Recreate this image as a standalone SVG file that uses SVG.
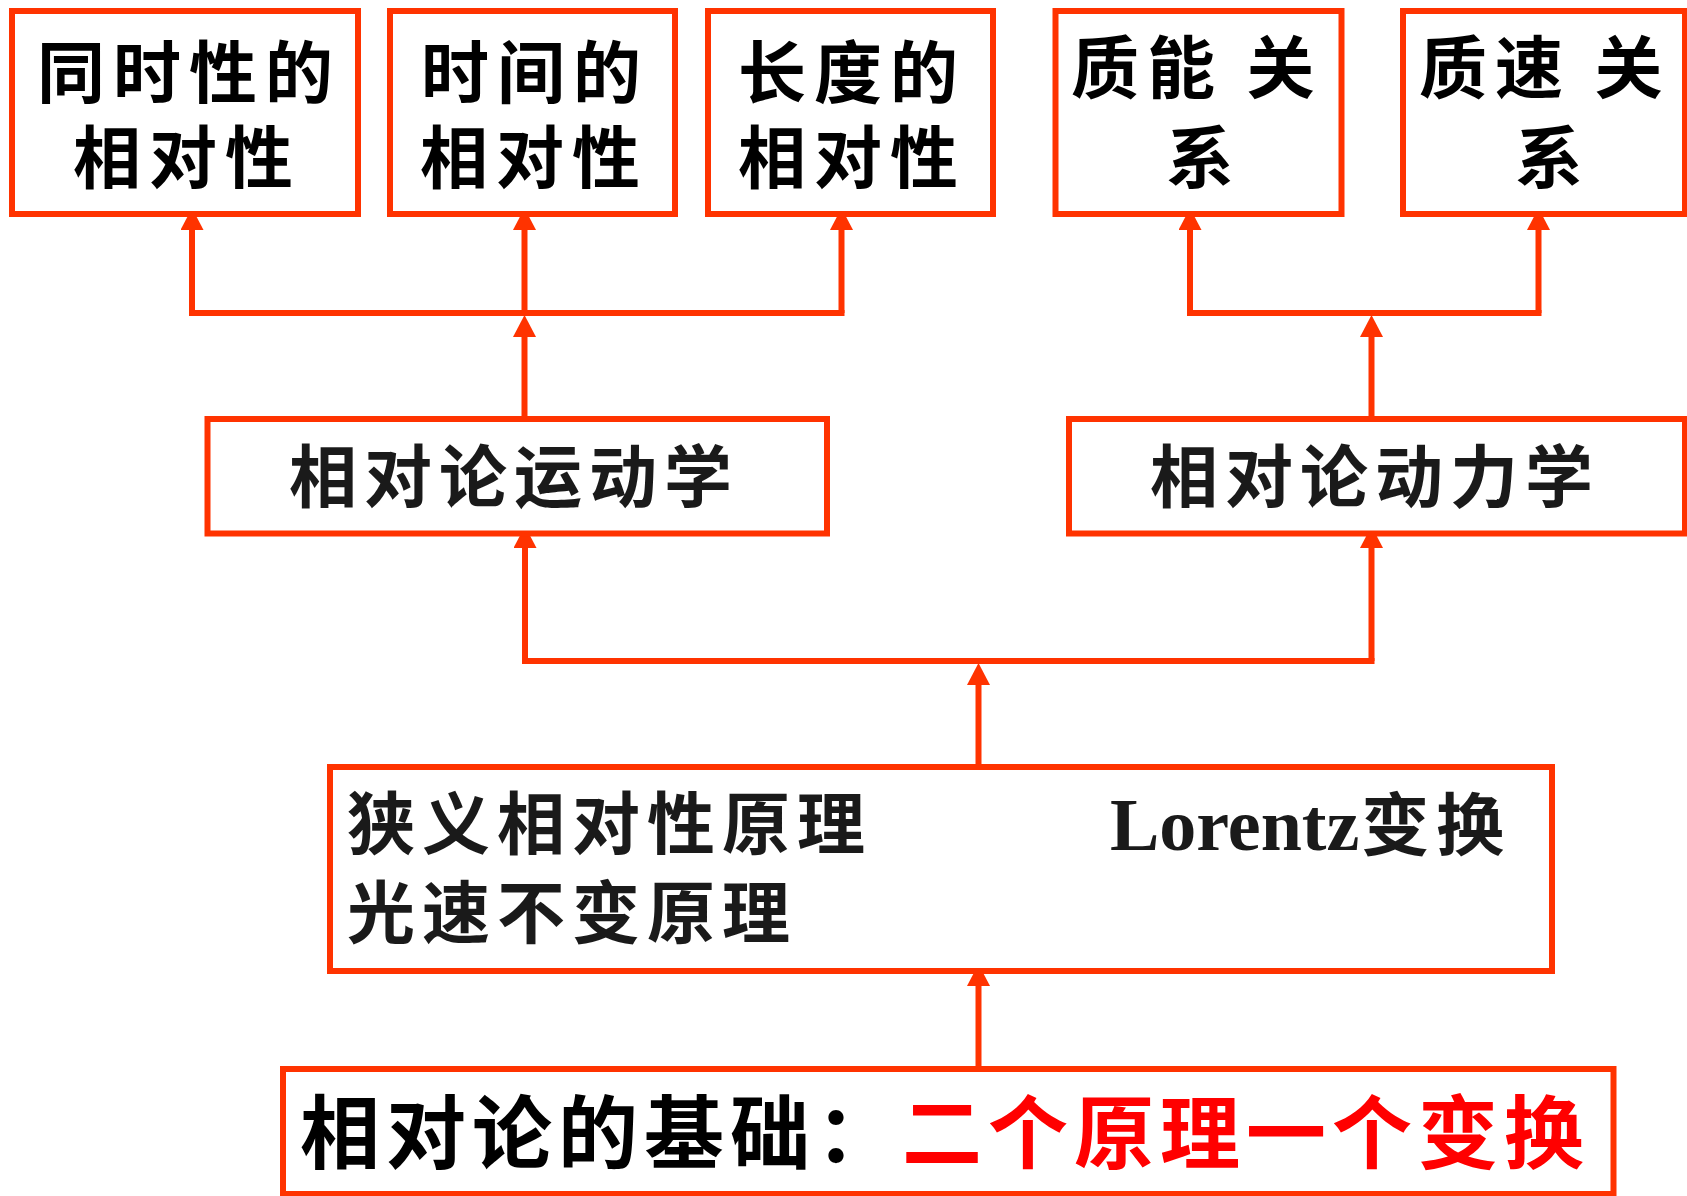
<svg xmlns="http://www.w3.org/2000/svg" width="1687" height="1196" viewBox="0 0 1687 1196">
<defs>
<style>
.box{fill:#ffffff;stroke:#FF3300;stroke-width:6}
.con{fill:none;stroke:#FF3300;stroke-width:6;stroke-linecap:square}
.arr{fill:none;stroke:#FF3300;stroke-width:6}
.t{font-family:"Noto Sans CJK SC","Noto Sans CJK JP",sans-serif;font-weight:bold;fill:#000000}
.t68{font-size:68px;letter-spacing:8px}
.mid{font-size:68px;letter-spacing:7px;fill:#1a1a1a}
.big{font-size:80px;letter-spacing:6px}
.red{fill:#FF0000}
.lat{font-family:"Liberation Serif","Times New Roman",serif;font-weight:bold;font-size:74px;letter-spacing:0;fill:#1a1a1a}
</style>
<marker id="ah" viewBox="0 0 22 23" refX="0" refY="11.5" markerWidth="22" markerHeight="23" markerUnits="userSpaceOnUse" orient="auto">
<path d="M0,0 L22,11.5 L0,23 Z" fill="#FF3300"/>
</marker>
</defs>
<rect width="1687" height="1196" fill="#ffffff"/>

<g id="connectors">
<path class="con" d="M192,313 H841.5 M1190,313 H1538.5 M525,661 H1371.5"/>
<line class="arr" x1="192" y1="313" x2="192" y2="230" marker-end="url(#ah)"/>
<line class="arr" x1="524.5" y1="313" x2="524.5" y2="230" marker-end="url(#ah)"/>
<line class="arr" x1="841.5" y1="313" x2="841.5" y2="230" marker-end="url(#ah)"/>
<line class="arr" x1="1190" y1="313" x2="1190" y2="230" marker-end="url(#ah)"/>
<line class="arr" x1="1538.5" y1="313" x2="1538.5" y2="230" marker-end="url(#ah)"/>
<line class="arr" x1="524.5" y1="419" x2="524.5" y2="337" marker-end="url(#ah)"/>
<line class="arr" x1="1371.5" y1="419" x2="1371.5" y2="337" marker-end="url(#ah)"/>
<line class="arr" x1="525" y1="661" x2="525" y2="548" marker-end="url(#ah)"/>
<line class="arr" x1="1371.5" y1="661" x2="1371.5" y2="548" marker-end="url(#ah)"/>
<line class="arr" x1="978.5" y1="767" x2="978.5" y2="685" marker-end="url(#ah)"/>
<line class="arr" x1="978.5" y1="1069" x2="978.5" y2="986" marker-end="url(#ah)"/>
</g>

<g id="n1">
<rect class="box" x="12" y="11" width="346" height="203"/>
<text class="t t68" text-anchor="middle"><tspan x="189" y="98">同时性的</tspan><tspan x="187" y="183">相对性</tspan></text>
</g>
<g id="n2">
<rect class="box" x="390" y="11" width="285" height="203"/>
<text class="t t68" text-anchor="middle"><tspan x="535" y="98">时间的</tspan><tspan x="534" y="183">相对性</tspan></text>
</g>
<g id="n3">
<rect class="box" x="708" y="11" width="285" height="203"/>
<text class="t t68" text-anchor="middle"><tspan x="852" y="98">长度的</tspan><tspan x="852" y="183">相对性</tspan></text>
</g>
<g id="n4">
<rect class="box" x="1055.5" y="11" width="286" height="203"/>
<text class="t t68" xml:space="preserve"><tspan x="1071" y="93">质能 关</tspan><tspan x="1166" y="183">系</tspan></text>
</g>
<g id="n5">
<rect class="box" x="1403" y="11" width="282" height="203"/>
<text class="t t68" xml:space="preserve"><tspan x="1419" y="93">质速 关</tspan><tspan x="1515" y="183">系</tspan></text>
</g>

<g id="n6">
<rect class="box" x="207.5" y="419" width="619.5" height="114.5"/>
<text class="t mid" x="289" y="502">相对论运动学</text>
</g>
<g id="n7">
<rect class="box" x="1069" y="419" width="616" height="114.5"/>
<text class="t mid" x="1150" y="502">相对论动力学</text>
</g>

<g id="n8">
<rect class="box" x="330" y="767" width="1222" height="204"/>
<text class="t mid"><tspan x="347" y="849">狭义相对性原理</tspan><tspan x="347" y="938">光速不变原理</tspan></text>
<text x="1110" y="850"><tspan class="lat">Lorentz</tspan><tspan class="t mid" dx="2">变换</tspan></text>
</g>

<g id="n9">
<rect class="box" x="283" y="1069" width="1330.5" height="125"/>
<text class="t big" x="300" y="1162">相对论的基础：</text>
<text class="t big red" x="902" y="1162">二个原理一个变换</text>
</g>
</svg>
